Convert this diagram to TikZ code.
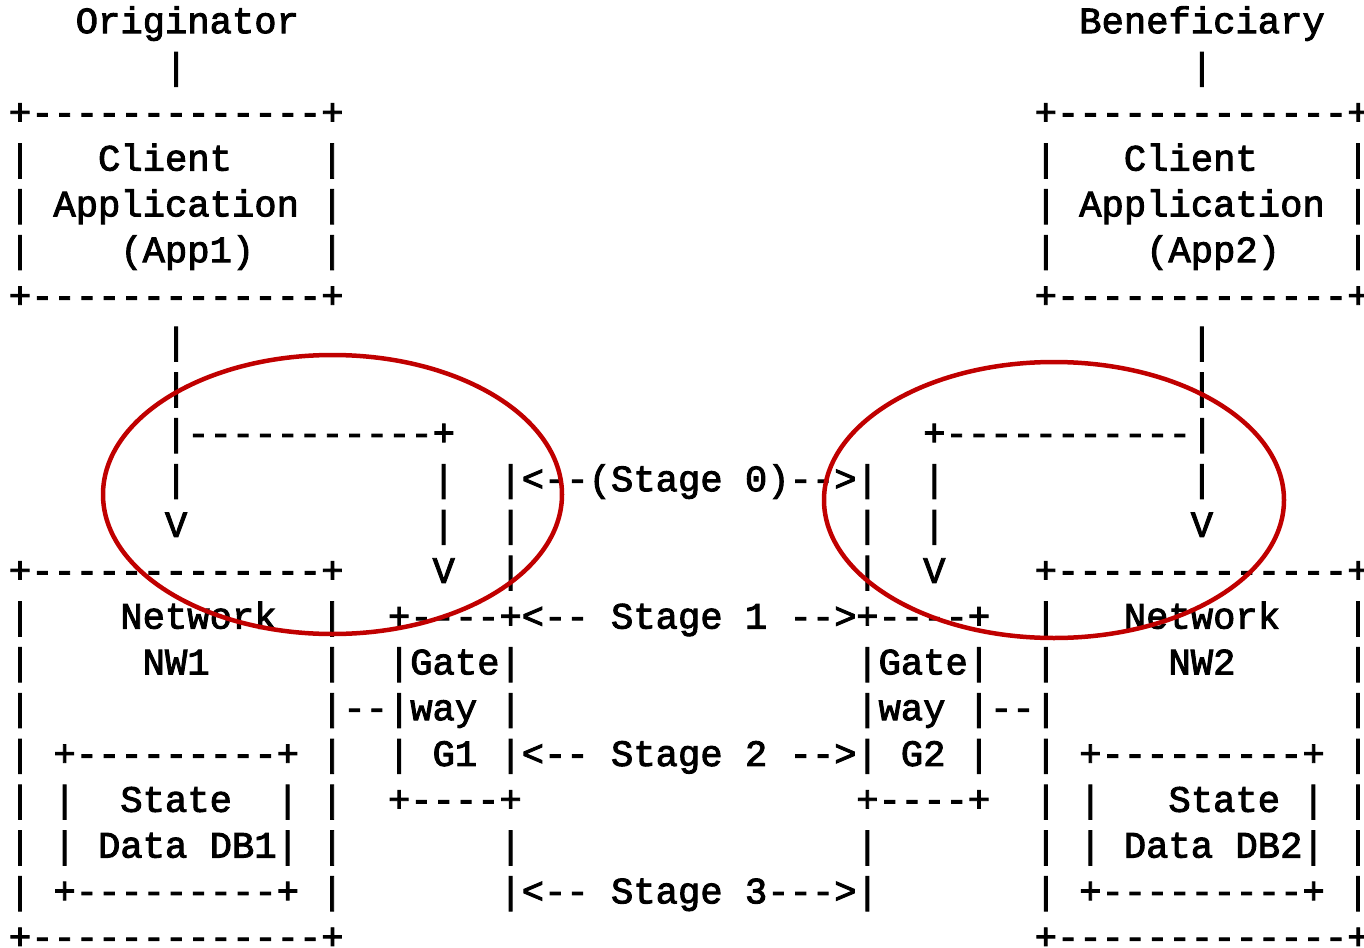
\documentclass[tikz,border=0pt]{standalone}
\usepackage{fontspec}
\newfontfamily\asciifont{Liberation Mono}[Ligatures=TeXOff,FakeBold=2.5]
\definecolor{ringred}{RGB}{192,0,0}

\begin{document}
\begin{tikzpicture}[x=22.3pt,y=-45.8pt,
	ch/.style={anchor=west,inner sep=0pt,outer sep=0pt,text height=29.8pt,text depth=7.4pt,font=\asciifont\fontsize{37.2pt}{44pt}\selectfont},
	ring/.style={draw=ringred,line width=4.5pt}]
	\useasboundingbox (0,0) rectangle (61.166,20.677);
	\begin{scope}[shift={(0.397,0.48)}]
	% originator and beneficiary
	\node[ch] (orig) at (3,0) {Originator};
	\node[ch] (benef) at (48,0) {Beneficiary};
	\node[ch] (orig-bar) at (7,1) {|};
	\node[ch] (benef-bar) at (53,1) {|};

	% client applications
	\node[ch] (app1-top) at (0,2) {+-------------+};
	\node[ch] (app1-bot) at (0,6) {+-------------+};
	\node[ch] (app2-top) at (46,2) {+-------------+};
	\node[ch] (app2-bot) at (46,6) {+-------------+};
	\foreach \r in {3,4,5} {
		\node[ch] (app1-l\r) at (0,\r) {|};
		\node[ch] (app1-r\r) at (14,\r) {|};
		\node[ch] (app2-l\r) at (46,\r) {|};
		\node[ch] (app2-r\r) at (60,\r) {|};
	}
	\node[ch] (app1-a) at (4,3) {Client};
	\node[ch] (app1-b) at (2,4) {Application};
	\node[ch] (app1-c) at (5,5) {(App1)};
	\node[ch] (app2-a) at (50,3) {Client};
	\node[ch] (app2-b) at (48,4) {Application};
	\node[ch] (app2-c) at (51,5) {(App2)};

	% flows down from the apps
	\foreach \r in {7,8,10} {
		\node[ch] (down1-\r) at (7,\r) {|};
		\node[ch] (down2-\r) at (53,\r) {|};
	}
	\node[ch] (split1) at (7,9) {|-----------+};
	\node[ch] (split2) at (41,9) {+-----------|};
	\node[ch] (nw1-in) at (7,11) {V};
	\node[ch] (nw2-in) at (53,11) {V};
	\foreach \r in {10,11} {
		\node[ch] (gw1-down\r) at (19,\r) {|};
		\node[ch] (gw2-down\r) at (41,\r) {|};
	}
	\node[ch] (gw1-in) at (19,12) {V};
	\node[ch] (gw2-in) at (41,12) {V};

	% stage markers
	\foreach \r in {10,11,12,18,19} {
		\node[ch] (st1-\r) at (22,\r) {|};
		\node[ch] (st2-\r) at (38,\r) {|};
	}
	\node[ch] (stage0) at (23,10) {<--(Stage 0)-->};
	\node[ch] (stage1) at (23,13) {<-- Stage 1 -->};
	\node[ch] (stage2) at (23,16) {<-- Stage 2 -->};
	\node[ch] (stage3) at (23,19) {<-- Stage 3--->};

	% gateways
	\foreach \g/\c in {1/17,2/38} {
		\node[ch] (gw\g-top) at (\c,13) {+----+};
		\node[ch] (gw\g-bot) at (\c,17) {+----+};
		\foreach \r in {14,15,16} {
			\node[ch] (gw\g-l\r) at (\c,\r) {|};
			\node[ch] (gw\g-r\r) at (\c+5,\r) {|};
		}
		\node[ch] (gw\g-a) at (\c+1,14) {Gate};
		\node[ch] (gw\g-b) at (\c+1,15) {way};
	}
	\node[ch] (gw1-c) at (19,16) {G1};
	\node[ch] (gw2-c) at (40,16) {G2};
	\node[ch] (link1) at (15,15) {--};
	\node[ch] (link2) at (44,15) {--};

	% networks
	\foreach \n/\c in {1/0,2/46} {
		\node[ch] (nw\n-top) at (\c,12) {+-------------+};
		\node[ch] (nw\n-bot) at (\c,20) {+-------------+};
		\foreach \r in {13,...,19} {
			\node[ch] (nw\n-l\r) at (\c,\r) {|};
			\node[ch] (nw\n-r\r) at (\c+14,\r) {|};
		}
		\node[ch] (db\n-top) at (\c+2,16) {+---------+};
		\node[ch] (db\n-bot) at (\c+2,19) {+---------+};
		\foreach \r in {17,18} {
			\node[ch] (db\n-l\r) at (\c+2,\r) {|};
			\node[ch] (db\n-r\r) at (\c+12,\r) {|};
		}
	}
	\node[ch] (nw1-a) at (5,13) {Network};
	\node[ch] (nw1-b) at (6,14) {NW1};
	\node[ch] (db1-a) at (5,17) {State};
	\node[ch] (db1-b) at (4,18) {Data DB1};
	\node[ch] (nw2-a) at (50,13) {Network};
	\node[ch] (nw2-b) at (52,14) {NW2};
	\node[ch] (db2-a) at (52,17) {State};
	\node[ch] (db2-b) at (50,18) {Data DB2};
	\end{scope}

	% highlight rings
	\draw[ring] (332.5pt,-494.5pt) ellipse [x radius=229.5pt,y radius=139.5pt];
	\draw[ring] (1054pt,-500pt) ellipse [x radius=230pt,y radius=138pt];
\end{tikzpicture}
\end{document}
